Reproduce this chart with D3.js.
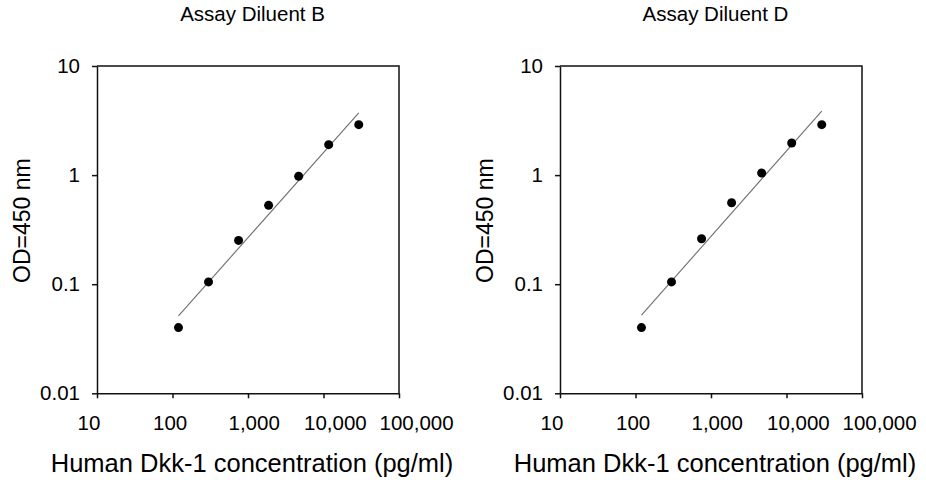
<!DOCTYPE html>
<html>
<head>
<meta charset="utf-8">
<script src="https://cdn.jsdelivr.net/npm/d3@7"></script>
<style>
  body { margin: 0; background: #fff; }
  svg { display: block; font-family: "Liberation Sans", Arial, sans-serif; }
  .axis path, .axis line { stroke: #111; stroke-width: 1.5; }
  .axis text { font-size: 20.5px; fill: #000; font-family: "Liberation Sans", Arial, sans-serif; }
</style>
</head>
<body>
<svg id="chart"></svg>
<script>
// chart size
var width = 926;
var height = 480;

// data
var concentrations = [120, 300, 750, 1875, 4688, 11719, 29297];
var odDiluentB = [0.040, 0.105, 0.252, 0.528, 0.975, 1.90, 2.90];
var odDiluentD = [0.040, 0.105, 0.261, 0.558, 1.046, 1.97, 2.90];
var panelTitles = ["Assay Diluent B", "Assay Diluent D"];
var xTickValues = [10, 100, 1000, 10000, 100000];
var yTickValues = [0.01, 0.1, 1, 10];
var xTitle = "Human Dkk-1 concentration (pg/ml)";
var yTitle = "OD=450 nm";

// plot box
var plotW = 302;
var plotH = 327.3;
var plotTop = 66;
var panelLefts = [97, 560];

var svg = d3.select('#chart')
.attr('width', width)
.attr('height', height);

var x = d3.scaleLog([10, 100000], [0, plotW]);
var y = d3.scaleLog([0.01, 10], [plotH, 0]);

// least squares fit in log-log space
function logFit(xs, ys)
{
    var lx = xs.map(Math.log10);
    var ly = ys.map(Math.log10);
    var mx = d3.mean(lx);
    var my = d3.mean(ly);
    var sxy = d3.sum(lx, (d, i) => (d - mx) * (ly[i] - my));
    var sxx = d3.sum(lx, (d) => (d - mx) * (d - mx));
    var slope = sxy / sxx;
    var icpt = my - slope * mx;
    return (v) => Math.pow(10, icpt + slope * Math.log10(v));
}

function drawPanel(left, title, values)
{
    var g = svg.append('g')
    .attr('transform', 'translate(' + left + ',' + plotTop + ')');

    // frame (top and right)
    g.append('path')
    .attr('d', 'M0,0H' + plotW + 'V' + plotH)
    .attr('fill', 'none')
    .attr('stroke', '#111')
    .attr('stroke-width', 1.5);

    var yAxis = d3.axisLeft(y)
    .tickValues(yTickValues)
    .tickFormat(d3.format(','))
    .tickSize(5)
    .tickSizeOuter(0)
    .tickPadding(12);

    g.append('g')
    .attr('class', 'axis')
    .call(yAxis);

    var xAxis = d3.axisBottom(x)
    .tickValues(xTickValues)
    .tickFormat(d3.format(','))
    .tickSize(5)
    .tickSizeOuter(0)
    .tickPadding(17);

    var xg = g.append('g')
    .attr('class', 'axis')
    .attr('transform', 'translate(0,' + plotH + ')')
    .call(xAxis);

    // labels sit left-aligned a bit before each tick, like the original
    xg.selectAll('.tick text')
    .attr('text-anchor', 'start')
    .attr('x', -20);

    // fit line
    var fit = logFit(concentrations, values);
    var ends = d3.extent(concentrations);
    g.append('line')
    .attr('x1', x(ends[0]))
    .attr('y1', y(fit(ends[0])))
    .attr('x2', x(ends[1]))
    .attr('y2', y(fit(ends[1])))
    .attr('stroke', '#6e6e6e')
    .attr('stroke-width', 1.1);

    g.selectAll('circle')
    .data(values)
    .enter()
    .append('circle')
    .attr('cx', (d, i) => x(concentrations[i]))
    .attr('cy', (d) => y(d))
    .attr('r', 4.5)
    .attr('fill', '#000');

    // titles
    g.append('text')
    .attr('x', plotW / 2 + 4.5)
    .attr('y', 21 - plotTop)
    .attr('text-anchor', 'middle')
    .attr('font-size', '20.5px')
    .attr('fill', '#000')
    .text(title);

    g.append('text')
    .attr('x', plotW / 2 + 4)
    .attr('y', 471.5 - plotTop)
    .attr('text-anchor', 'middle')
    .attr('font-size', '25.5px')
    .attr('fill', '#000')
    .text(xTitle);

    g.append('text')
    .attr('transform', 'translate(-67,' + (plotH / 2 - 9) + ') rotate(-90)')
    .attr('text-anchor', 'middle')
    .attr('font-size', '23px')
    .attr('fill', '#000')
    .text(yTitle);
}

drawPanel(panelLefts[0], panelTitles[0], odDiluentB);
drawPanel(panelLefts[1], panelTitles[1], odDiluentD);
</script>
</body>
</html>
